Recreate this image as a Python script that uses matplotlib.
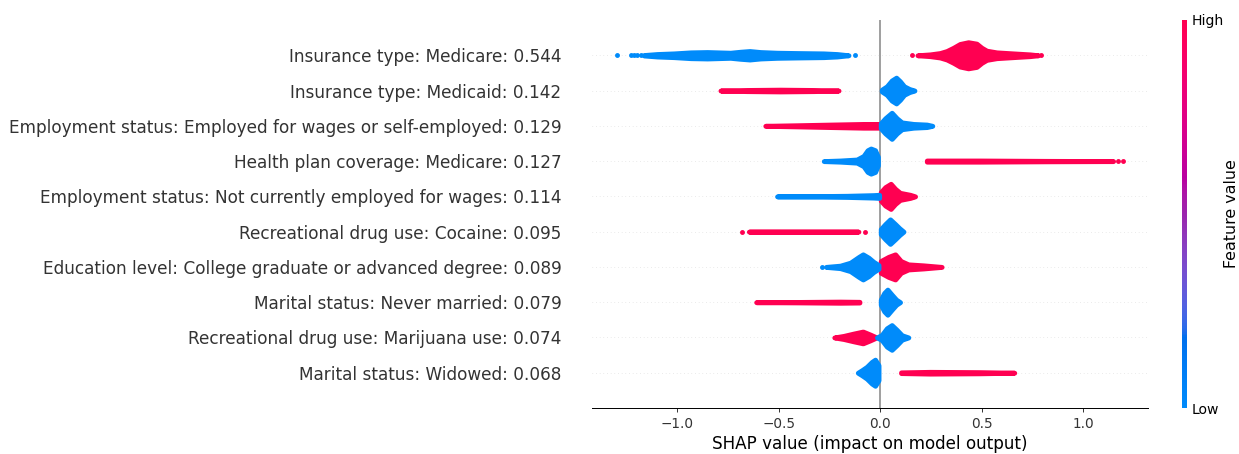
import numpy as np
import matplotlib
matplotlib.use("Agg")
import matplotlib.pyplot as plt
from matplotlib.colors import LinearSegmentedColormap

# Features, top to bottom, with their mean |SHAP| importance
features = [
    "Insurance type: Medicare",
    "Insurance type: Medicaid",
    "Employment status: Employed for wages or self-employed",
    "Health plan coverage: Medicare",
    "Employment status: Not currently employed for wages",
    "Recreational drug use: Cocaine",
    "Education level: College graduate or advanced degree",
    "Marital status: Never married",
    "Recreational drug use: Marijuana use",
    "Marital status: Widowed",
]
importance = [0.544, 0.142, 0.129, 0.127, 0.114, 0.095, 0.089, 0.079, 0.074, 0.068]

# Beeswarm density profiles: SHAP values along each swarm and the
# half-spread of the swarm (in row units) at those values.
low_shap = [
    [-1.164, -1.099, -1.016, -0.934, -0.852, -0.738, -0.689, -0.643, -0.59, -0.508, -0.41, -0.279, -0.213, -0.156],
    [0.008, 0.033, 0.057, 0.079, 0.098, 0.118, 0.144, 0.169],
    [0.003, 0.025, 0.057, 0.082, 0.107, 0.164, 0.23, 0.257],
    [-0.278, -0.197, -0.115, -0.082, -0.062, -0.046, -0.025, -0.011],
    [-0.508, -0.328, -0.164, -0.033, -0.005],
    [0.003, 0.025, 0.049, 0.074, 0.095, 0.115],
    [-0.267, -0.197, -0.147, -0.105, -0.085, -0.057, -0.033, -0.008],
    [0.003, 0.02, 0.036, 0.057, 0.079, 0.098],
    [-0.016, 0.008, 0.033, 0.057, 0.082, 0.107, 0.139],
    [-0.11, -0.09, -0.066, -0.041, -0.025, -0.008],
]
low_spread = [
    [0.006, 0.035, 0.053, 0.082, 0.091, 0.072, 0.1, 0.12, 0.091, 0.072, 0.063, 0.053, 0.035, 0.0],
    [0.025, 0.12, 0.285, 0.365, 0.261, 0.12, 0.044, 0.0],
    [0.072, 0.214, 0.37, 0.214, 0.096, 0.053, 0.035, 0.0],
    [0.0, 0.016, 0.044, 0.145, 0.308, 0.356, 0.308, 0.12],
    [0.0, 0.006, 0.016, 0.035, 0.044],
    [0.072, 0.214, 0.347, 0.214, 0.096, 0.0],
    [0.0, 0.035, 0.12, 0.285, 0.356, 0.261, 0.145, 0.053],
    [0.072, 0.261, 0.356, 0.214, 0.072, 0.0],
    [0.0, 0.072, 0.261, 0.35, 0.214, 0.063, 0.0],
    [0.0, 0.072, 0.167, 0.308, 0.37, 0.214],
]
high_shap = [
    [0.184, 0.246, 0.295, 0.328, 0.361, 0.393, 0.434, 0.475, 0.5, 0.525, 0.574, 0.656, 0.738, 0.779],
    [-0.787, -0.656, -0.492, -0.328, -0.205],
    [-0.566, -0.41, -0.246, -0.082, -0.008],
    [0.23, 0.492, 0.82, 1.148],
    [0.003, 0.025, 0.052, 0.074, 0.098, 0.148, 0.172],
    [-0.647, -0.492, -0.328, -0.164, -0.107],
    [0.003, 0.041, 0.074, 0.102, 0.139, 0.213, 0.303],
    [-0.611, -0.41, -0.197, -0.102],
    [-0.226, -0.18, -0.131, -0.085, -0.049, -0.02],
    [0.103, 0.246, 0.492, 0.661],
]
high_spread = [
    [0.0, 0.025, 0.063, 0.12, 0.214, 0.32, 0.37, 0.33, 0.214, 0.13, 0.082, 0.053, 0.025, 0.0],
    [0.0, 0.016, 0.025, 0.016, 0.0],
    [0.0, 0.016, 0.035, 0.053, 0.053],
    [0.016, 0.016, 0.006, 0.0],
    [0.12, 0.261, 0.356, 0.214, 0.1, 0.044, 0.0],
    [0.0, 0.006, 0.006, 0.006, 0.0],
    [0.167, 0.285, 0.356, 0.167, 0.072, 0.044, 0.0],
    [0.0, 0.006, 0.016, 0.01],
    [0.0, 0.044, 0.11, 0.167, 0.082, 0.006],
    [0.01, 0.025, 0.016, 0.0],
]
# Isolated points outside the dense swarms
low_outliers = [[-1.295, -1.227, -1.212, -1.196, -1.18, -0.123], [], [], [], [], [], [-0.287], [], [], []]
high_outliers = [[0.159, 0.795], [], [], [1.172, 1.197], [], [-0.68, -0.077], [], [], [], []]

xticks = [-1.0, -0.5, 0.0, 0.5, 1.0]


def lch_to_rgb(l, c, h):
    a, b = c * np.cos(h), c * np.sin(h)
    fy = (l + 16) / 116
    fx = fy + a / 500
    fz = fy - b / 200

    def finv(t):
        return t ** 3 if t > 6 / 29 else 3 * (6 / 29) ** 2 * (t - 4 / 29)

    xyz = np.array([0.95047 * finv(fx), finv(fy), 1.08883 * finv(fz)])
    m = np.array([[3.2406, -1.5372, -0.4986],
                  [-0.9689, 1.8758, 0.0415],
                  [0.0557, -0.2040, 1.0570]])
    lin = m @ xyz
    rgb = np.where(lin > 0.0031308, 1.055 * np.abs(lin) ** (1 / 2.4) - 0.055, 12.92 * lin)
    return np.clip(rgb, 0, 1)


nsteps = 100
l_vals = list(np.linspace(54.0, 40.0, nsteps // 2)) + list(np.linspace(40.0, 54.0, nsteps // 2))
c_vals = np.linspace(70.0, 90.0, nsteps)
h_vals = np.linspace(4.6588, 0.35470565 + 2 * np.pi, nsteps)
red_blue = LinearSegmentedColormap.from_list(
    "red_blue", [lch_to_rgb(l, c, h) for l, c, h in zip(l_vals, c_vals, h_vals)])

BLUE = (0.0, 0.5450484248210137, 0.9818216627527234)
RED = (1.0, 0.0, 0.31796406298163893)
AXIS = "#333333"

plt.rcParams["font.family"] = "DejaVu Sans"
DPI = 88
fig = plt.figure(figsize=(1239 / DPI, 454 / DPI), dpi=DPI)
ax = fig.add_axes([592 / 1239, 1 - 408 / 454, 556 / 1239, 388 / 454])

n = len(features)
ax.axvline(0, color="#999999", zorder=-1)
for i in range(n):
    y = n - 1 - i
    ax.axhline(y, color="#cccccc", lw=0.5, dashes=(1, 5), zorder=-1)
    for xs, hw, out, col in ((high_shap[i], high_spread[i], high_outliers[i], RED),
                             (low_shap[i], low_spread[i], low_outliers[i], BLUE)):
        xs = np.asarray(xs)
        hw = np.asarray(hw)
        ax.fill_between(xs, y - hw, y + hw, facecolor=col, edgecolor=col,
                        linewidth=4.0, joinstyle="round", capstyle="round", zorder=2)
        if out:
            ax.scatter(out, [y] * len(out), s=16, color=col, linewidths=0, zorder=2)

ax.set_xlim(-1.42, 1.32)
ax.set_ylim(-1, n)
ax.set_yticks(range(n))
ax.set_yticklabels([f"{f}: {v:.3f}" for f, v in zip(features[::-1], importance[::-1])],
                   fontsize=13.85)
ax.set_xticks(xticks)
ax.set_xticklabels([f"{t:.1f}".replace("-", "\u2212") for t in xticks])
ax.tick_params("y", length=20, width=0.5, which="major", pad=5)
ax.yaxis.set_ticks_position("none")
ax.xaxis.set_ticks_position("bottom")
ax.tick_params(color=AXIS, labelcolor=AXIS)
ax.tick_params("x", labelsize=11.2)
for side in ("right", "top", "left"):
    ax.spines[side].set_visible(False)
ax.set_xlabel("SHAP value (impact on model output)", fontsize=13.75)

cax = fig.add_axes([1181.7 / 1239, 1 - 408 / 454, 5.6 / 1239, 388 / 454])
sm = plt.cm.ScalarMappable(cmap=red_blue)
sm.set_array([0, 1])
cb = fig.colorbar(sm, cax=cax, ticks=[0, 1])
cb.set_ticklabels(["Low", "High"])
cb.set_label("Feature value", size=13, labelpad=0)
cb.ax.tick_params(labelsize=11.5, length=0)
cb.outline.set_visible(False)

fig.savefig("out.png", dpi=DPI)
